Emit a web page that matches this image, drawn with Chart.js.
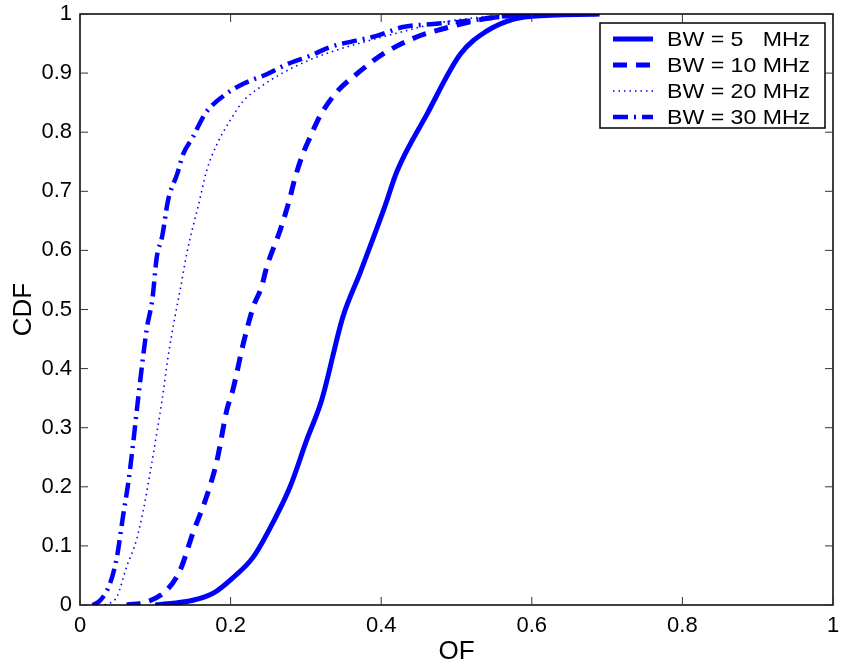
<!DOCTYPE html>
<html>
<head>
<meta charset="utf-8">
<script src="https://cdn.jsdelivr.net/npm/chart.js@4"></script>
<style>
  html, body { margin: 0; padding: 0; background: #fff; }
  #wrap { width: 843px; height: 667px; }
</style>
</head>
<body>
<div id="wrap"><canvas id="cdf"></canvas></div>
<script>
// values
const seriesNames = ['BW = 5   MHz', 'BW = 10 MHz', 'BW = 20 MHz', 'BW = 30 MHz'];

const of5 = [0.10, 0.15, 0.177, 0.203, 0.23, 0.256, 0.279, 0.301, 0.321, 0.349, 0.372, 0.385, 0.405, 0.421, 0.461, 0.505, 0.54, 0.575, 0.60, 0.69];
const cdf5 = [0, 0.008, 0.02, 0.046, 0.081, 0.139, 0.2, 0.279, 0.347, 0.487, 0.562, 0.606, 0.675, 0.734, 0.831, 0.932, 0.971, 0.991, 0.996, 1.0];

const of10 = [0.062, 0.088, 0.115, 0.133, 0.15, 0.168, 0.182, 0.195, 0.203, 0.217, 0.23, 0.241, 0.248, 0.266, 0.278, 0.285, 0.295, 0.305, 0.319, 0.341, 0.367, 0.402, 0.447, 0.491, 0.522, 0.567, 0.62];
const cdf10 = [0, 0.005, 0.025, 0.059, 0.122, 0.183, 0.245, 0.33, 0.364, 0.443, 0.504, 0.538, 0.572, 0.635, 0.685, 0.72, 0.76, 0.79, 0.828, 0.868, 0.898, 0.932, 0.961, 0.978, 0.988, 0.997, 1.0];

const of20 = [0.033, 0.049, 0.062, 0.075, 0.084, 0.093, 0.102, 0.109, 0.117, 0.126, 0.133, 0.142, 0.15, 0.157, 0.168, 0.182, 0.199, 0.217, 0.239, 0.266, 0.301, 0.336, 0.381, 0.425, 0.469, 0.513, 0.558, 0.62];
const cdf20 = [0, 0.014, 0.065, 0.11, 0.16, 0.223, 0.291, 0.347, 0.42, 0.487, 0.533, 0.596, 0.64, 0.675, 0.734, 0.78, 0.819, 0.853, 0.876, 0.898, 0.92, 0.937, 0.954, 0.969, 0.983, 0.992, 0.997, 1.0];

const of30 = [0.017, 0.027, 0.04, 0.049, 0.057, 0.064, 0.07, 0.077, 0.089, 0.096, 0.102, 0.109, 0.117, 0.129, 0.137, 0.15, 0.166, 0.19, 0.217, 0.248, 0.275, 0.305, 0.332, 0.363, 0.394, 0.429, 0.469, 0.513, 0.558, 0.62];
const cdf30 = [0, 0.008, 0.037, 0.081, 0.149, 0.206, 0.267, 0.347, 0.47, 0.516, 0.589, 0.623, 0.685, 0.729, 0.763, 0.792, 0.831, 0.861, 0.882, 0.898, 0.915, 0.929, 0.944, 0.954, 0.963, 0.978, 0.983, 0.988, 0.995, 1.0];

const xTicks = [0, 0.2, 0.4, 0.6, 0.8, 1];
const yTicks = [0, 0.1, 0.2, 0.3, 0.4, 0.5, 0.6, 0.7, 0.8, 0.9, 1];

const FONT = '"Liberation Sans", Arial, Helvetica, sans-serif';
const BLUE = '#0000ff';

const pts = (xs, ys) => xs.map((x, i) => ({ x: x, y: ys[i] }));

const styles = [
  { borderWidth: 5, borderDash: [] },
  { borderWidth: 5, borderDash: [14, 9] },
  { borderWidth: 1.6, borderDash: [1.5, 4] },
  { borderWidth: 4.5, borderDash: [15, 6, 2, 6] },
];

const datasets = [[of5, cdf5], [of10, cdf10], [of20, cdf20], [of30, cdf30]].map((s, i) => ({
  label: seriesNames[i],
  data: pts(s[0], s[1]),
  borderColor: BLUE,
  backgroundColor: BLUE,
  borderWidth: styles[i].borderWidth,
  borderDash: styles[i].borderDash,
  pointRadius: 0,
  cubicInterpolationMode: 'monotone',
  fill: false,
}));

// matlab-like box with inward ticks on all four sides
const framePlugin = {
  id: 'frame',
  afterDatasetsDraw(chart) {
    const { ctx, chartArea: a, scales } = chart;
    ctx.save();
    ctx.strokeStyle = '#000';
    ctx.lineWidth = 1.5;
    ctx.strokeRect(a.left, a.top, a.right - a.left, a.bottom - a.top);
    ctx.lineWidth = 1;
    ctx.strokeStyle = '#333';
    const len = 8;
    ctx.beginPath();
    xTicks.forEach(v => {
      const px = scales.x.getPixelForValue(v);
      ctx.moveTo(px, a.bottom); ctx.lineTo(px, a.bottom - len);
      ctx.moveTo(px, a.top); ctx.lineTo(px, a.top + len);
    });
    yTicks.forEach(v => {
      const py = scales.y.getPixelForValue(v);
      ctx.moveTo(a.left, py); ctx.lineTo(a.left + len, py);
      ctx.moveTo(a.right, py); ctx.lineTo(a.right - len, py);
    });
    ctx.stroke();
    ctx.restore();
  }
};

// legend box in the top right corner
const legendPlugin = {
  id: 'boxLegend',
  afterDraw(chart) {
    const { ctx } = chart;
    const bx = 600, by = 23, bw = 225, bh = 105;
    ctx.save();
    ctx.fillStyle = '#fff';
    ctx.fillRect(bx, by, bw, bh);
    ctx.strokeStyle = '#000';
    ctx.lineWidth = 1.5;
    ctx.strokeRect(bx, by, bw, bh);
    chart.data.datasets.forEach((ds, i) => {
      const y = by + 16 + i * 26;
      ctx.strokeStyle = ds.borderColor;
      ctx.lineWidth = ds.borderWidth;
      ctx.setLineDash(ds.borderDash);
      ctx.beginPath();
      ctx.moveTo(613, y);
      ctx.lineTo(653, y);
      ctx.stroke();
      ctx.setLineDash([]);
      ctx.fillStyle = '#000';
      ctx.font = '21px ' + FONT;
      ctx.textBaseline = 'middle';
      ctx.textAlign = 'left';
      ctx.save();
      ctx.translate(667, y + 1);
      ctx.scale(1.1, 1);
      ctx.fillText(ds.label, 0, 0);
      ctx.restore();
    });
    ctx.restore();
  }
};

new Chart(document.getElementById('cdf'), {
  type: 'line',
  data: { datasets },
  options: {
    responsive: true,
    maintainAspectRatio: false,
    animation: false,
    layout: { padding: { top: 14, right: 10, left: 0, bottom: 0 } },
    plugins: { legend: { display: false }, tooltip: { enabled: false } },
    scales: {
      x: {
        type: 'linear',
        min: 0, max: 1,
        afterFit: s => { s.height = 62; s.paddingLeft = 0; s.paddingRight = 0; },
        afterBuildTicks: s => { s.ticks = xTicks.map(v => ({ value: v })); },
        grid: { display: false, drawTicks: false },
        border: { display: false },
        ticks: {
          color: '#000',
          padding: 8,
          maxRotation: 0,
          font: { family: FONT, size: 22 },
          callback: v => String(+v.toFixed(1)),
        },
        title: {
          display: true, text: 'OF', color: '#000',
          font: { family: FONT, size: 26 },
          padding: { top: 8, bottom: 0 },
        },
      },
      y: {
        type: 'linear',
        min: 0, max: 1,
        afterFit: s => { s.width = 80; s.paddingTop = 0; s.paddingBottom = 0; },
        afterBuildTicks: s => { s.ticks = yTicks.map(v => ({ value: v })); },
        grid: { display: false, drawTicks: false },
        border: { display: false },
        ticks: {
          color: '#000',
          padding: 8,
          font: { family: FONT, size: 22 },
          callback: v => String(+v.toFixed(1)),
        },
        title: {
          display: true, text: 'CDF', color: '#000',
          font: { family: FONT, size: 26 },
          padding: { top: 8, bottom: 0 },
        },
      },
    },
  },
  plugins: [framePlugin, legendPlugin],
});
</script>
</body>
</html>
